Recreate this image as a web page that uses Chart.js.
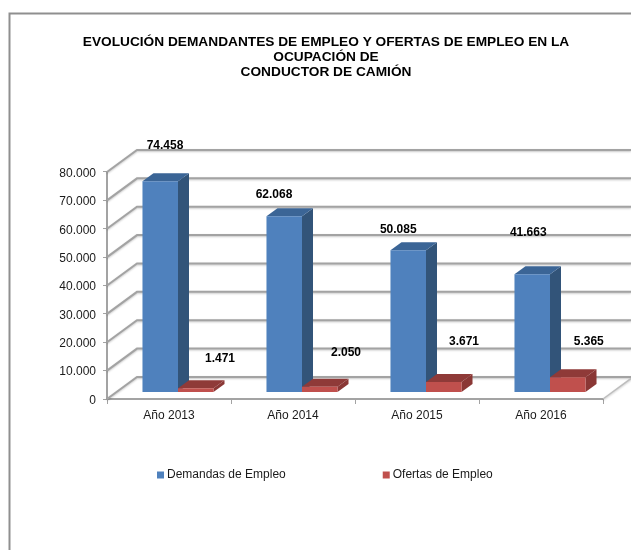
<!DOCTYPE html>
<html><head><meta charset="utf-8">
<style>html,body{margin:0;padding:0;background:#fff}canvas{display:block;filter:blur(0.4px)}</style>
<script src="https://cdn.jsdelivr.net/npm/chart.js@4/dist/chart.umd.min.js"></script>
</head><body><canvas id="c" width="631" height="550"></canvas>
<script>
const titleLines = ['EVOLUCIÓN DEMANDANTES DE EMPLEO Y OFERTAS DE EMPLEO EN LA','OCUPACIÓN DE','CONDUCTOR DE CAMIÓN'];
const categories = ['Año 2013','Año 2014','Año 2015','Año 2016'];
const demandas = [74458,62068,50085,41663];
const ofertas = [1471,2050,3671,5365];
const seriesNames = ['Demandas de Empleo','Ofertas de Empleo'];

const FONT = '"Liberation Sans", Arial, sans-serif';
const fmt = v => String(v).replace(/\B(?=(\d{3})+$)/g,'.');
const depth = {wallX:30, wallY:-22, barShiftX:9, barShiftY:-6.5, barX:11, barY:-8};
const faces = [{side:'#325479',top:'#3b6596'},{side:'#8a3735',top:'#8f3a38'}];
const labelNudges = [
  [[13.75,-42],[-1.25,-28.4],[-1,-27.4],[5,-48.3]],
  [[33.25,-36.3],[35.25,-40.7],[29.25,-47.1],[30,-41.6]]
];
const gridColor = '#a3a3a3';

const poly = (ctx,pts,fill)=>{ctx.beginPath();pts.forEach((p,i)=>i?ctx.lineTo(p[0],p[1]):ctx.moveTo(p[0],p[1]));ctx.closePath();ctx.fillStyle=fill;ctx.fill();};

const scene = {
  id:'scene',
  afterLayout(chart){
    const l = chart.legend;
    const w = l.right-l.left, h = l.bottom-l.top;
    l.left = 60; l.right = l.left+w; l.top = 369; l.bottom = l.top+h;
    const t = chart.titleBlock; t.left += 24.5; t.right += 24.5;
  },
  beforeDraw(chart){
    const ctx = chart.ctx;
    ctx.save();
    ctx.strokeStyle='#8f8f8f';ctx.lineWidth=2;
    ctx.beginPath();ctx.moveTo(9.5,550);ctx.lineTo(9.5,13.5);ctx.lineTo(631,13.5);ctx.stroke();
    ctx.restore();
  },
  beforeDatasetsDraw(chart){
    const ctx = chart.ctx, y = chart.scales.y;
    const L = chart.chartArea.left, R = chart.chartArea.right;
    ctx.save();
    ctx.strokeStyle=gridColor;ctx.lineWidth=2;
    ctx.shadowColor='rgba(0,0,0,0.22)';ctx.shadowBlur=2;ctx.shadowOffsetY=1;
    y.ticks.forEach(t=>{
      const py = y.getPixelForValue(t.value);
      ctx.beginPath();ctx.moveTo(L,py);ctx.lineTo(L+depth.wallX,py+depth.wallY);ctx.lineTo(chart.width,py+depth.wallY);ctx.stroke();
    });
    const b = y.getPixelForValue(0);
    ctx.lineWidth=1.5;ctx.strokeStyle='#bdbdbd';
    ctx.beginPath();ctx.moveTo(R,b);ctx.lineTo(R+depth.wallX,b+depth.wallY);ctx.stroke();
    ctx.restore();

    ctx.save();
    ctx.translate(depth.barShiftX,depth.barShiftY);
    chart.data.datasets.forEach((ds,di)=>{
      chart.getDatasetMeta(di).data.forEach(el=>{
        const p = el.getProps(['x','y','base','width']);
        const l = p.x-p.width/2, r = p.x+p.width/2, dx = depth.barX, dy = depth.barY;
        poly(ctx,[[r,p.y],[r+dx,p.y+dy],[r+dx,p.base+dy],[r,p.base]],faces[di].side);
        poly(ctx,[[l,p.y],[l+dx,p.y+dy],[r+dx,p.y+dy],[r,p.y]],faces[di].top);
      });
    });
  },
  afterDatasetsDraw(chart){
    const ctx = chart.ctx;
    ctx.restore();
    ctx.save();
    ctx.font='bold 12px '+FONT;ctx.fillStyle='#000';ctx.textAlign='center';ctx.textBaseline='middle';
    chart.data.datasets.forEach((ds,di)=>{
      chart.getDatasetMeta(di).data.forEach((el,i)=>{
        const n = labelNudges[di][i];
        ctx.fillText(fmt(ds.data[i]),el.x+n[0],el.y+n[1]);
      });
    });
    ctx.restore();
  }
};

new Chart(document.getElementById('c'),{
  type:'bar',
  plugins:[scene],
  data:{labels:categories,datasets:[
    {label:seriesNames[0],data:demandas,backgroundColor:'#4f81bd',borderWidth:0},
    {label:seriesNames[1],data:ofertas,backgroundColor:'#c0504d',borderWidth:0}
  ]},
  options:{
    responsive:false,animation:false,
    layout:{autoPadding:false,padding:{left:0,right:28,top:0,bottom:8}},
    datasets:{bar:{barPercentage:1,categoryPercentage:0.573}},
    plugins:{
      tooltip:{enabled:false},
      title:{display:true,text:titleLines,color:'#000',
        font:{family:FONT,size:13.7,weight:'bold',lineHeight:1.13},
        padding:{top:34,bottom:91.5}},
      legend:{position:'bottom',align:'start',
        labels:{boxWidth:1,boxHeight:1,padding:100,color:'#1a1a1a',font:{family:FONT,size:12},
          generateLabels(chart){
            return Chart.defaults.plugins.legend.labels.generateLabels(chart).map(it=>({...it,strokeStyle:it.fillStyle,lineWidth:6}));
          }}}
    },
    scales:{
      x:{afterFit:s=>{s.height=21;},
        grid:{drawOnChartArea:false,drawTicks:true,tickLength:5,color:gridColor},
        border:{color:gridColor,width:2},
        ticks:{color:'#1a1a1a',padding:4,maxRotation:0,font:{family:FONT,size:12}}},
      y:{min:0,max:80000,afterFit:s=>{s.width=107;},
        grid:{drawOnChartArea:false,drawTicks:true,tickLength:4,color:gridColor},
        border:{color:gridColor,width:2},
        ticks:{stepSize:10000,color:'#1a1a1a',padding:7,labelOffset:1.5,font:{family:FONT,size:12},callback:v=>fmt(v)}}
    }
  }
});
</script></body></html>
